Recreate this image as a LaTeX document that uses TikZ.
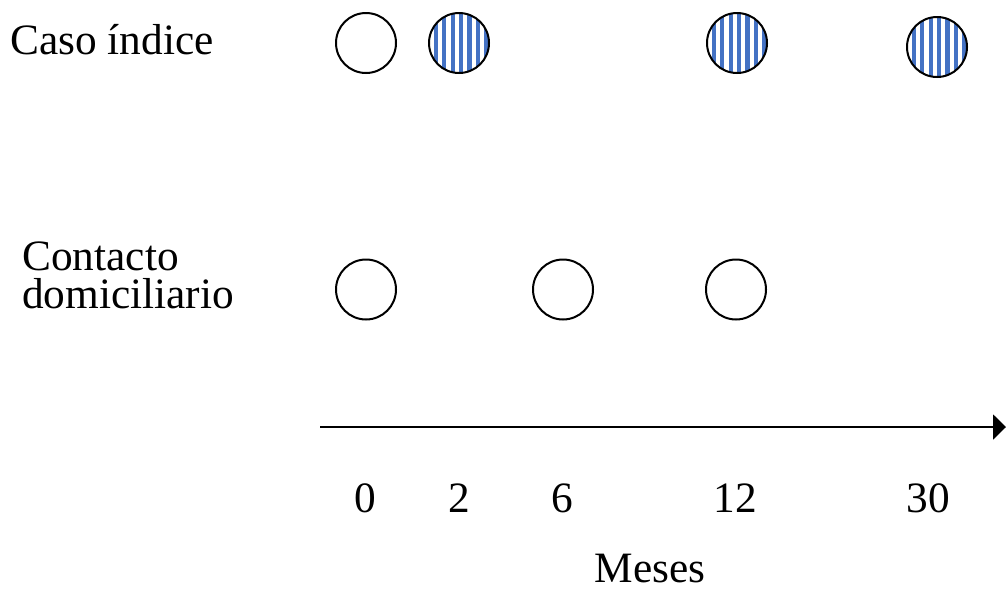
\documentclass[tikz,border=0pt]{standalone}
\usepackage{fontspec}
\setmainfont{Liberation Serif}
\usetikzlibrary{arrows.meta}
\definecolor{stripeblue}{RGB}{68,114,196}
\tikzset{
  visit/.style={circle, draw=black, line width=1.5pt, minimum size=45pt, inner sep=0pt},
  positive/.style={visit, path picture={
      \foreach \k in {-3,...,3}{
        \fill[stripeblue]
          ([xshift={(\k*8.4-0.1)*0.75pt}, yshift=-40pt]path picture bounding box.center)
          rectangle ++(3.15pt,80pt);
      }}},
  lbl/.style={font=\fontsize{32.5}{28}\selectfont, inner sep=0pt},
  axis/.style={line width=1.5pt, -{Triangle[length=9.75pt,width=18.75pt]}}
}
\begin{document}
\begin{tikzpicture}[x=0.75pt,y=-0.75pt]
  \path[use as bounding box] (0,0) rectangle (1006,590);

  % row labels (base of the two-line label is its last line)
  \node[lbl, anchor=base west] (caso) at (10,54) {Caso índice};
  \node[lbl, anchor=base west, align=left] (contacto) at (22,308)
       {Contacto\\domiciliario};

  % index case visits
  \node[visit]    (c0)  at (366,43) {};
  \node[positive] (c2)  at (459,43) {};
  \node[positive] (c12) at (737,43) {};
  \node[positive] (c30) at (937,47) {};

  % household contact visits
  \node[visit] (h0)  at (366,289.5) {};
  \node[visit] (h6)  at (563,289.5) {};
  \node[visit] (h12) at (736,289.5) {};

  % time axis
  \coordinate (axL) at (320,427);
  \coordinate (axR) at (1006,427);
  \draw[axis] (axL) -- (axR);

  % month ticks
  \node[lbl, anchor=base] (m0)  at (365,512.7) {0};
  \node[lbl, anchor=base] (m2)  at (459,512.7) {2};
  \node[lbl, anchor=base] (m6)  at (562,512.7) {6};
  \node[lbl, anchor=base] (m12) at (735,512.7) {12};
  \node[lbl, anchor=base] (m30) at (928,512.7) {30};

  \node[lbl, anchor=base] (meses) at (650,582) {Meses};
\end{tikzpicture}
\end{document}
